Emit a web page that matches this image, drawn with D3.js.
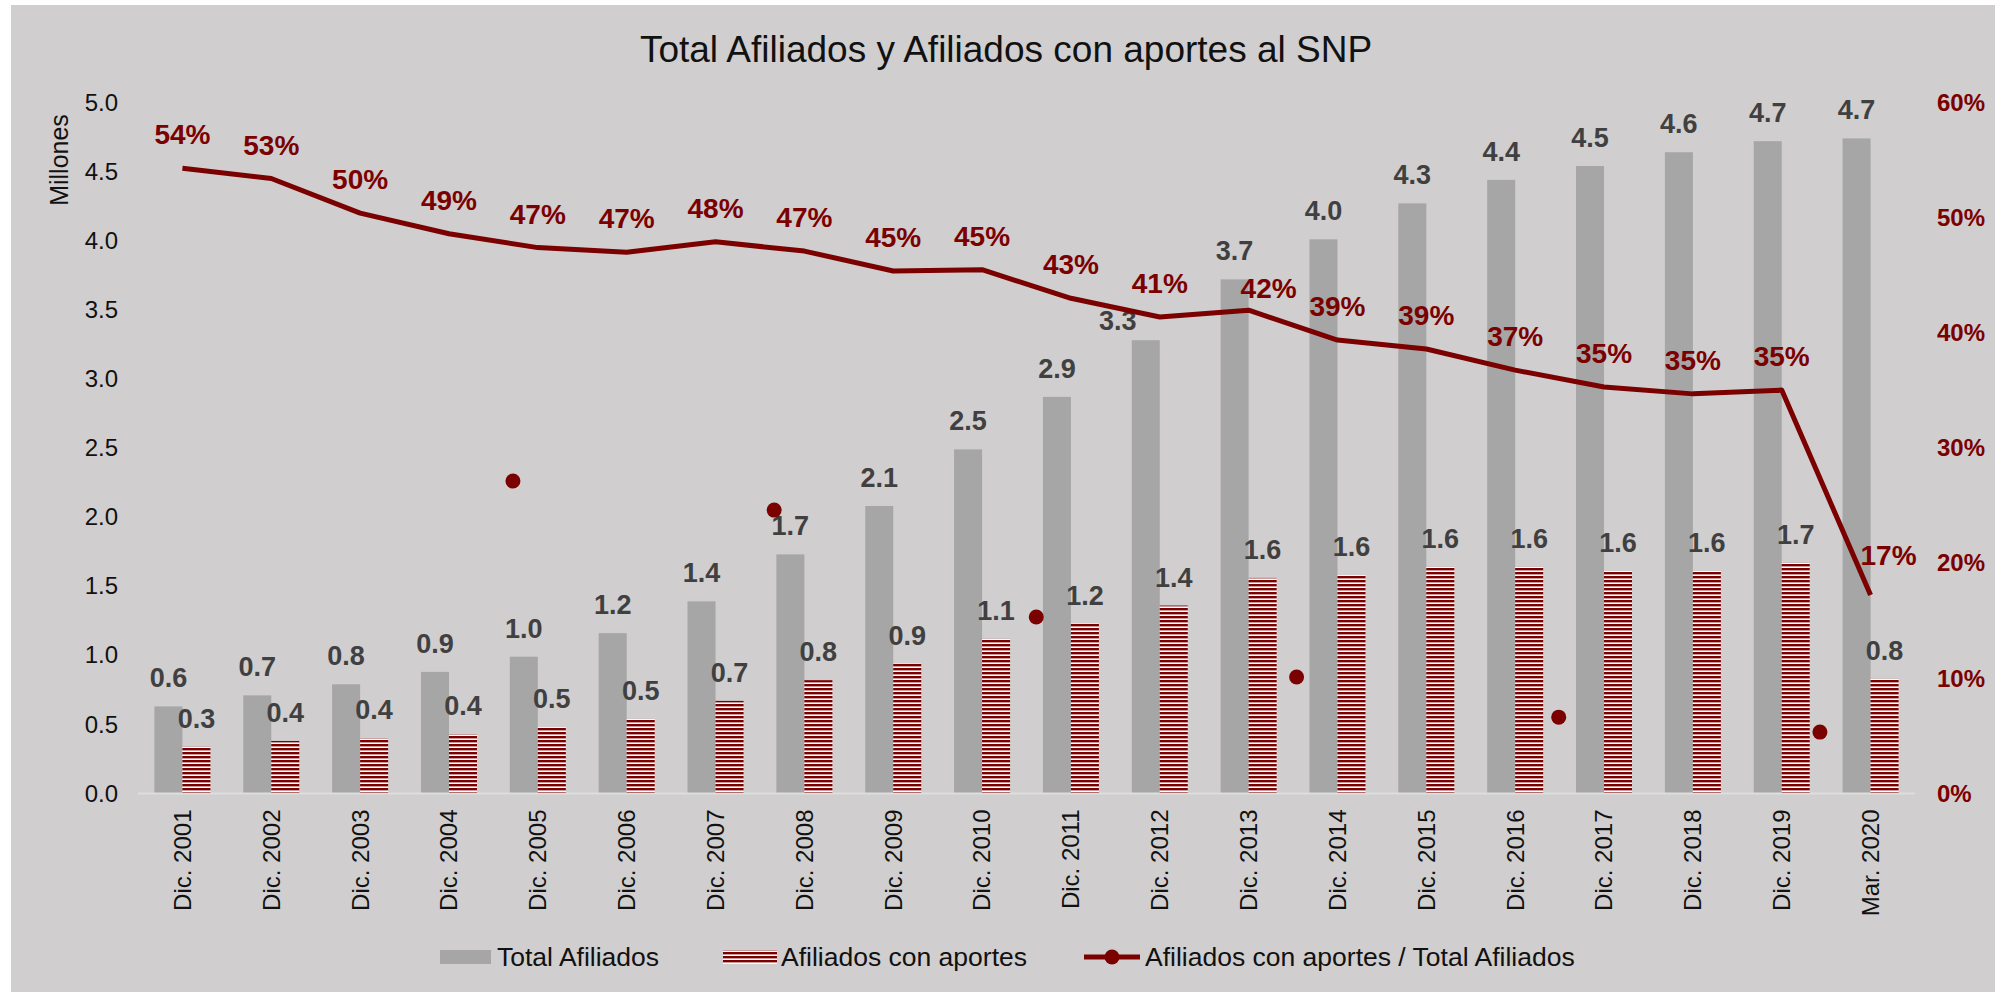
<!DOCTYPE html>
<html>
<head>
<meta charset="utf-8">
<script src="https://cdnjs.cloudflare.com/ajax/libs/d3/7.8.5/d3.min.js"></script>
<style>
  html, body { margin: 0; padding: 0; background: #ffffff; }
  svg { display: block; font-family: "Liberation Sans", Arial, sans-serif; }
</style>
</head>
<body>
<div id="chart"></div>
<script>
// categories and series (millions / share)
const categories = ['Dic. 2001', 'Dic. 2002', 'Dic. 2003', 'Dic. 2004', 'Dic. 2005', 'Dic. 2006',
  'Dic. 2007', 'Dic. 2008', 'Dic. 2009', 'Dic. 2010', 'Dic. 2011', 'Dic. 2012', 'Dic. 2013',
  'Dic. 2014', 'Dic. 2015', 'Dic. 2016', 'Dic. 2017', 'Dic. 2018', 'Dic. 2019', 'Mar. 2020'];
const totalAfiliados = [0.63, 0.71, 0.79, 0.88, 0.99, 1.16, 1.39, 1.73, 2.08, 2.49,
  2.87, 3.28, 3.72, 4.01, 4.27, 4.44, 4.54, 4.64, 4.72, 4.74];
const afiliadosAportes = [0.34, 0.38, 0.40, 0.43, 0.48, 0.54, 0.67, 0.82, 0.94, 1.12,
  1.23, 1.36, 1.56, 1.58, 1.64, 1.64, 1.61, 1.61, 1.67, 0.83];
const ratioAportes = [0.543, 0.534, 0.504, 0.486, 0.474, 0.470, 0.479, 0.471, 0.4537, 0.4548,
  0.430, 0.4137, 0.4197, 0.3937, 0.386, 0.3676, 0.353, 0.347, 0.3503, 0.1723];
// loose markers of the ratio series (category index, share)
const looseIdx = [3.72, 6.66, 9.61, 12.54, 15.49, 18.43];
const looseVal = [0.2713, 0.2461, 0.1532, 0.1011, 0.0663, 0.0533];
const leftTicks = [0, 0.5, 1, 1.5, 2, 2.5, 3, 3.5, 4, 4.5, 5];
const rightTicks = [0, 0.1, 0.2, 0.3, 0.4, 0.5, 0.6];

const W = 1995, H = 992;
const plot = { left: 138, right: 1915, top: 102.5, bottom: 793.5 };
const MAROON = '#7b0000', GRAY = '#a6a6a6', LABEL = '#404040', INK = '#111111';

const svg = d3.select('#chart').append('svg')
  .attr('width', W)
  .attr('height', H);

const defs = svg.append('defs');
const pat = defs.append('pattern')
  .attr('id', 'stripes')
  .attr('patternUnits', 'userSpaceOnUse')
  .attr('width', 8)
  .attr('height', 4);
pat.append('rect').attr('width', 8).attr('height', 4).attr('fill', '#ffffff');
pat.append('rect').attr('width', 8).attr('height', 2.4).attr('fill', MAROON);

svg.append('rect')
  .attr('x', 11).attr('y', 5)
  .attr('width', W - 11).attr('height', H - 5)
  .attr('fill', '#d0cecf');

svg.append('text')
  .attr('x', 1006).attr('y', 62)
  .attr('text-anchor', 'middle')
  .style('font-size', '37px')
  .style('fill', INK)
  .text('Total Afiliados y Afiliados con aportes al SNP');

const x = d3.scaleBand().domain(categories).range([plot.left, plot.right]).padding(0);
const xIdx = d3.scaleLinear().domain([-0.5, categories.length - 0.5]).range([plot.left, plot.right]);
const xSub = d3.scaleBand().domain(['total', 'aportes']).range([-28, 28]);
const y = d3.scaleLinear().domain([0, 5]).range([plot.bottom, plot.top]);
const y2 = d3.scaleLinear().domain([0, 0.6]).range([plot.bottom, plot.top]);
const cx = d => x(d) + x.bandwidth() / 2;

// axes
const gLeft = svg.append('g')
  .attr('transform', `translate(${plot.left - 20},0)`)
  .call(d3.axisLeft(y).tickValues(leftTicks).tickFormat(d3.format('.1f')).tickSize(0).tickPadding(0));
gLeft.select('.domain').remove();
gLeft.selectAll('text')
  .style('font-size', '24px')
  .style('font-family', '"Liberation Sans", Arial, sans-serif')
  .style('fill', INK);

const gRight = svg.append('g')
  .attr('transform', `translate(${plot.right + 22},0)`)
  .call(d3.axisRight(y2).tickValues(rightTicks).tickFormat(d3.format('.0%')).tickSize(0).tickPadding(0));
gRight.select('.domain').remove();
gRight.selectAll('text')
  .style('font-size', '24px')
  .style('font-weight', 'bold')
  .style('font-family', '"Liberation Sans", Arial, sans-serif')
  .style('fill', MAROON);

svg.append('text')
  .attr('transform', `translate(68,160) rotate(-90)`)
  .attr('text-anchor', 'middle')
  .style('font-size', '25px')
  .style('fill', INK)
  .text('Millones');

// bars
const rows = categories.map((c, i) => ({
  c, i, total: totalAfiliados[i], aportes: afiliadosAportes[i], ratio: ratioAportes[i]
}));

svg.append('g').selectAll('rect')
  .data(rows)
  .enter()
  .append('rect')
  .attr('x', d => cx(d.c) + xSub('total'))
  .attr('y', d => y(d.total))
  .attr('width', xSub.bandwidth())
  .attr('height', d => y(0) - y(d.total))
  .attr('fill', GRAY);

svg.append('g').selectAll('rect')
  .data(rows)
  .enter()
  .append('rect')
  .attr('x', d => cx(d.c) + xSub('aportes'))
  .attr('y', d => y(d.aportes))
  .attr('width', xSub.bandwidth())
  .attr('height', d => y(0) - y(d.aportes))
  .attr('fill', 'url(#stripes)');

// baseline
svg.append('line')
  .attr('x1', plot.left).attr('x2', plot.right)
  .attr('y1', y(0)).attr('y2', y(0))
  .attr('stroke', '#dedede')
  .attr('stroke-width', 2);

// category labels
const gBottom = svg.append('g')
  .attr('transform', `translate(0,${y(0)})`)
  .call(d3.axisBottom(x).tickSize(0));
gBottom.select('.domain').remove();
gBottom.selectAll('text')
  .attr('x', -16)
  .attr('y', 0)
  .attr('dy', '0.35em')
  .attr('transform', 'rotate(-90)')
  .attr('text-anchor', 'end')
  .style('font-size', '24px')
  .style('font-family', '"Liberation Sans", Arial, sans-serif')
  .style('fill', INK);

// bar value labels
const fmt1 = d3.format('.1f');
const totalShift = { 11: [-28, 10] };
svg.append('g').selectAll('text')
  .data(rows)
  .enter()
  .append('text')
  .attr('x', d => cx(d.c) + xSub('total') + xSub.bandwidth() / 2 + (totalShift[d.i] ? totalShift[d.i][0] : 0))
  .attr('y', d => y(d.total) - (totalShift[d.i] ? totalShift[d.i][1] : 19))
  .attr('text-anchor', 'middle')
  .style('font-size', '27px')
  .style('font-weight', 'bold')
  .style('fill', LABEL)
  .text(d => fmt1(d.total));

svg.append('g').selectAll('text')
  .data(rows)
  .enter()
  .append('text')
  .attr('x', d => cx(d.c) + xSub('aportes') + xSub.bandwidth() / 2)
  .attr('y', d => y(d.aportes) - 19)
  .attr('text-anchor', 'middle')
  .style('font-size', '27px')
  .style('font-weight', 'bold')
  .style('fill', LABEL)
  .text(d => fmt1(d.aportes));

// ratio line
const line = d3.line()
  .x(d => cx(d.c))
  .y(d => y2(d.ratio));

svg.append('path')
  .datum(rows)
  .attr('d', line)
  .attr('fill', 'none')
  .attr('stroke', MAROON)
  .attr('stroke-width', 5)
  .attr('stroke-linejoin', 'round');

svg.append('g').selectAll('circle')
  .data(looseIdx.map((p, i) => ({ p, v: looseVal[i] })))
  .enter()
  .append('circle')
  .attr('cx', d => xIdx(d.p))
  .attr('cy', d => y2(d.v))
  .attr('r', 7.5)
  .attr('fill', MAROON);

const pctShift = { 12: [20, 12], 19: [18, 30] };
svg.append('g').selectAll('text')
  .data(rows)
  .enter()
  .append('text')
  .attr('x', d => cx(d.c) + (pctShift[d.i] ? pctShift[d.i][0] : 0))
  .attr('y', d => y2(d.ratio) - (pctShift[d.i] ? pctShift[d.i][1] : 24))
  .attr('text-anchor', 'middle')
  .style('font-size', '28px')
  .style('font-weight', 'bold')
  .style('fill', MAROON)
  .text(d => d3.format('.0%')(d.ratio));

// legend
const legend = svg.append('g').style('font-size', '26.5px').style('fill', INK);
legend.append('rect').attr('x', 440).attr('y', 950).attr('width', 51).attr('height', 14).attr('fill', GRAY);
legend.append('text').attr('x', 497).attr('y', 966).text('Total Afiliados');
legend.append('rect').attr('x', 723).attr('y', 950).attr('width', 54).attr('height', 14).attr('fill', 'url(#stripes)');
legend.append('text').attr('x', 781).attr('y', 966).text('Afiliados con aportes');
legend.append('line')
  .attr('x1', 1084).attr('x2', 1140).attr('y1', 957).attr('y2', 957)
  .attr('stroke', MAROON).attr('stroke-width', 5);
legend.append('circle').attr('cx', 1112).attr('cy', 957).attr('r', 7.5).attr('fill', MAROON);
legend.append('text').attr('x', 1145).attr('y', 966).text('Afiliados con aportes / Total Afiliados');
</script>
</body>
</html>
